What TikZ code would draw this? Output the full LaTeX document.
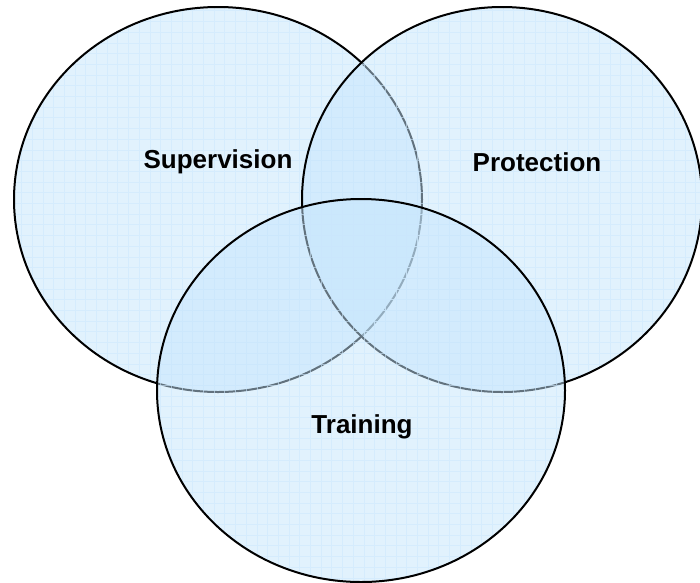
\documentclass[tikz,border=0pt]{standalone}
\usepackage{fontspec}
\setmainfont{Liberation Sans}
\usetikzlibrary{positioning}

\definecolor{setfill}{RGB}{196,229,252}
\definecolor{gridblue}{RGB}{205,232,252}

\begin{document}
\begin{tikzpicture}[x=1pt,y=-1pt]

	\tikzstyle{every node}=[font=\fontsize{26}{30}\selectfont\bfseries]
	
	\tikzstyle{set area}=[fill=setfill,fill opacity=0.5]
	\tikzstyle{set line}=[draw=black,line width=2pt]
	\tikzstyle{set grid}=[draw=gridblue,line width=0.5pt,opacity=0.6]
	
	\useasboundingbox (0,0) rectangle (700,582);
	
	% three sets, each one over the last
	\foreach \cx/\cy/\rx/\ry in {218/199.5/204/192.5, 502/199.5/200/192.5, 361/390.5/204/191.5}{
		\fill[set area] (\cx,\cy) ellipse [x radius=\rx, y radius=\ry];
		\begin{scope}
			\clip (\cx,\cy) ellipse [x radius=\rx, y radius=\ry];
			\draw[set grid,step=10.7pt] (0,0) grid (710,590);
		\end{scope}
		\draw[set line] (\cx,\cy) ellipse [x radius=\rx, y radius=\ry];
	}
	
	\node (S) at (218,162) {Supervision};
	\node (P) at (537,162) {Protection};
	\node (T) at (362,427) {Training};
	
\end{tikzpicture}
\end{document}
